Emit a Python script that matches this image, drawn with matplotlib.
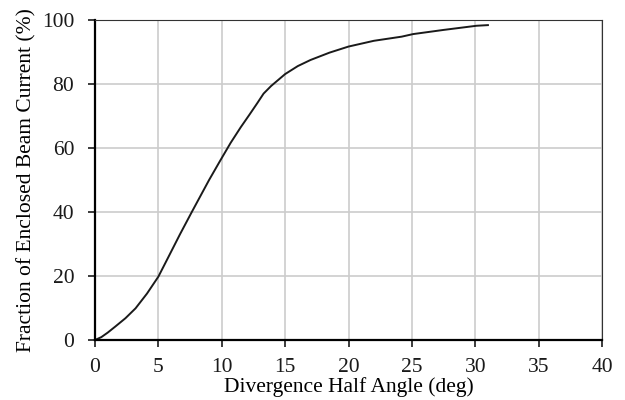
import numpy as np
import matplotlib.pyplot as plt

# Данные кривой
angle = [0, 0.5, 1.0, 1.6, 2.4, 3.2, 4.1, 5.0, 5.8, 6.7, 7.65, 9.0, 9.9,
         10.7, 11.5, 12.2, 12.8, 13.3, 13.9, 15.0, 16.0, 17.0, 18.5, 20.0,
         22.0, 24.2, 25.1, 27.5, 30.1, 31.0]
fraction = [0, 0.9, 2.3, 4.2, 6.8, 9.9, 14.5, 19.8, 26.0, 33.0, 40.1, 50.0,
            56.2, 61.6, 66.5, 70.5, 74.0, 77.0, 79.4, 83.1, 85.6, 87.5, 89.8,
            91.7, 93.5, 94.8, 95.6, 96.9, 98.2, 98.4]

x_ticks = [0, 5, 10, 15, 20, 25, 30, 35, 40]
y_ticks = [0, 20, 40, 60, 80, 100]

plt.rcParams['font.family'] = ['Liberation Serif', 'DejaVu Serif']

fig = plt.figure(figsize=(6.25, 4.0), dpi=100)
ax = fig.add_axes([95 / 625, 1 - 340 / 400, 507 / 625, 320 / 400])

ax.plot(angle, fraction, color='#1a1a1a', lw=1.4, solid_joinstyle='round')

ax.set_xlim(0, 40)
ax.set_ylim(0, 100)
ax.set_xticks(x_ticks)
ax.set_yticks(y_ticks)
ax.grid(True, color='#cccccc', lw=1.2)
ax.set_axisbelow(True)

ax.spines['left'].set_linewidth(1.6)
ax.spines['bottom'].set_linewidth(1.6)
ax.spines['top'].set_color('#333333')
ax.spines['right'].set_color('#333333')
ax.tick_params(direction='out', length=5, width=1.2, labelsize=15.5,
               colors='#1a1a1a')
ax.tick_params(axis='x', pad=8)
ax.tick_params(axis='y', pad=10)

ax.set_xlabel('Divergence Half Angle (deg)', fontsize=15.5, labelpad=0)
ax.set_ylabel('Fraction of Enclosed Beam Current (%)', fontsize=15.5,
              labelpad=4)

fig.savefig('out.png', dpi=100)
